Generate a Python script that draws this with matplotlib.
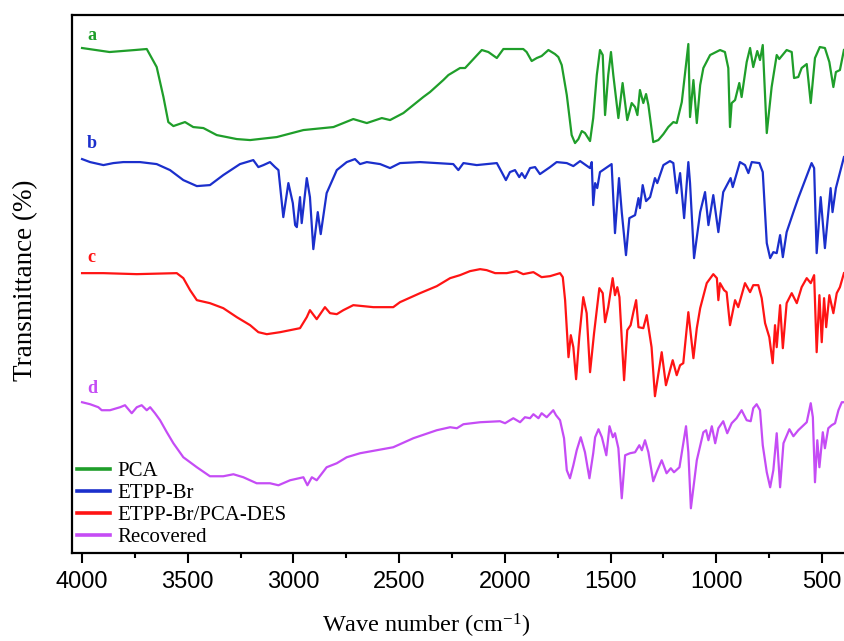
import numpy as np
import matplotlib
matplotlib.use("Agg")
import matplotlib.pyplot as plt
from matplotlib.ticker import MultipleLocator

# FTIR spectra (wavenumber, offset transmittance in arbitrary units)
wn_a = [4000, 3870, 3750, 3694, 3647, 3615, 3592, 3568, 3513, 3474, 3426, 3363, 3268, 3205, 3079, 2953,
        2811, 2717, 2653, 2582, 2543, 2480, 2433, 2386, 2354, 2291, 2267, 2212, 2188, 2109, 2078, 2038,
        2007, 1913, 1897, 1873, 1849, 1826, 1794, 1763, 1747, 1731, 1707, 1684, 1668, 1652, 1636, 1621,
        1597, 1582, 1565, 1550, 1537, 1526, 1511, 1498, 1487, 1463, 1443, 1421, 1400, 1384, 1373, 1361,
        1345, 1332, 1321, 1298, 1274, 1250, 1227, 1203, 1187, 1163, 1132, 1124, 1108, 1092, 1076, 1061,
        1029, 982, 959, 943, 935, 927, 911, 891, 880, 856, 840, 825, 806, 793, 780, 761, 738, 714, 702,
        667, 643, 632, 612, 596, 572, 553, 533, 510, 486, 465, 446, 434, 415, 396]
t_a = [505, 501, 503, 504, 486, 456, 431, 427, 431, 426, 425, 418, 414, 413, 416, 423, 426, 434, 430, 435,
       433, 440, 448, 456, 461, 473, 478, 485, 485, 503, 501, 495, 504, 504, 501, 492, 495, 497, 503, 499,
       496, 488, 458, 418, 410, 414, 422, 420, 412, 435, 478, 503, 498, 438, 478, 501, 478, 435, 470, 433,
       450, 446, 438, 463, 450, 459, 448, 411, 413, 419, 426, 431, 430, 451, 509, 436, 473, 430, 468, 485,
       498, 503, 501, 485, 426, 450, 453, 470, 456, 491, 505, 486, 502, 493, 508, 420, 466, 498, 494, 503,
       501, 475, 476, 485, 489, 450, 495, 506, 505, 491, 466, 481, 483, 503]

wn_b = [4000, 3962, 3899, 3852, 3805, 3726, 3647, 3584, 3521, 3457, 3395, 3332, 3253, 3190, 3166, 3142,
        3111, 3087, 3071, 3048, 3024, 3003, 2992, 2984, 2969, 2961, 2937, 2922, 2906, 2885, 2871, 2843,
        2795, 2748, 2709, 2685, 2653, 2590, 2543, 2496, 2401, 2322, 2244, 2220, 2196, 2133, 2038, 2015,
        1995, 1976, 1952, 1932, 1920, 1905, 1881, 1857, 1834, 1786, 1755, 1707, 1676, 1644, 1597, 1589,
        1582, 1573, 1563, 1550, 1495, 1479, 1460, 1447, 1427, 1411, 1384, 1368, 1361, 1348, 1332, 1313,
        1290, 1279, 1250, 1219, 1203, 1187, 1171, 1152, 1132, 1124, 1105, 1076, 1053, 1037, 1014, 990,
        967, 932, 922, 888, 864, 848, 832, 796, 780, 761, 745, 730, 714, 698, 685, 667, 635, 612, 549,
        537, 525, 506, 486, 459, 450, 434, 396]
t_b = [394, 391, 388, 390, 391, 391, 389, 383, 373, 367, 368, 378, 389, 393, 386, 388, 391, 386, 383, 336,
       370, 350, 328, 326, 356, 330, 375, 356, 304, 341, 319, 360, 383, 391, 394, 389, 391, 389, 385, 390,
       391, 390, 389, 383, 390, 388, 390, 381, 373, 381, 383, 376, 380, 375, 385, 386, 379, 386, 391, 390,
       387, 392, 385, 391, 348, 370, 365, 381, 389, 320, 375, 341, 298, 335, 338, 355, 345, 368, 352, 356,
       375, 370, 388, 392, 390, 360, 380, 335, 391, 370, 295, 341, 361, 328, 358, 321, 361, 375, 366, 391,
       388, 380, 391, 390, 381, 310, 295, 301, 300, 318, 296, 321, 341, 355, 390, 385, 300, 356, 305, 365,
       341, 365, 396]

wn_c = [4000, 3899, 3741, 3552, 3521, 3489, 3457, 3395, 3332, 3268, 3205, 3166, 3126, 3063, 3016, 2969,
        2937, 2922, 2890, 2851, 2827, 2795, 2764, 2717, 2669, 2622, 2528, 2496, 2401, 2322, 2259, 2212,
        2165, 2117, 2086, 2046, 1991, 1944, 1913, 1865, 1826, 1786, 1739, 1726, 1715, 1699, 1688, 1676,
        1663, 1648, 1629, 1613, 1597, 1578, 1553, 1537, 1526, 1511, 1490, 1479, 1468, 1458, 1436, 1421,
        1405, 1392, 1379, 1368, 1345, 1329, 1306, 1290, 1258, 1238, 1206, 1187, 1171, 1156, 1132, 1108,
        1092, 1076, 1045, 1014, 997, 990, 982, 963, 951, 935, 911, 896, 864, 840, 825, 801, 785, 769, 749,
        733, 722, 714, 698, 685, 667, 643, 619, 596, 572, 553, 537, 525, 512, 501, 490, 480, 465, 446, 430,
        415, 396]
t_c = [280, 280, 279, 280, 275, 263, 253, 250, 245, 236, 228, 221, 219, 221, 223, 225, 236, 243, 234, 246,
       240, 239, 243, 248, 247, 246, 246, 251, 260, 267, 275, 278, 282, 284, 283, 280, 280, 282, 279, 281,
       276, 277, 280, 276, 253, 196, 218, 206, 174, 216, 256, 240, 181, 220, 265, 260, 231, 246, 275, 258,
       266, 256, 173, 223, 228, 241, 253, 226, 225, 238, 206, 157, 201, 168, 193, 178, 188, 190, 241, 195,
       225, 245, 270, 279, 275, 253, 270, 263, 261, 228, 253, 246, 270, 261, 268, 268, 255, 230, 216, 190,
       228, 206, 248, 205, 250, 260, 250, 266, 275, 270, 278, 201, 258, 211, 255, 226, 258, 240, 260, 266,
       280]

wn_d = [4000, 3962, 3923, 3907, 3868, 3820, 3797, 3765, 3741, 3718, 3694, 3678, 3655, 3631, 3599, 3568,
        3521, 3457, 3395, 3332, 3284, 3237, 3174, 3111, 3071, 3016, 2953, 2934, 2913, 2890, 2843, 2795,
        2748, 2685, 2606, 2528, 2433, 2322, 2259, 2227, 2196, 2117, 2023, 1999, 1960, 1928, 1905, 1881,
        1865, 1841, 1826, 1802, 1771, 1758, 1739, 1720, 1707, 1692, 1676, 1660, 1641, 1621, 1600, 1582,
        1573, 1557, 1541, 1520, 1505, 1489, 1479, 1463, 1447, 1431, 1408, 1384, 1364, 1352, 1337, 1321,
        1298, 1282, 1258, 1235, 1215, 1200, 1174, 1143, 1132, 1120, 1092, 1061, 1048, 1037, 1021, 1005,
        990, 967, 948, 927, 904, 880, 856, 837, 825, 809, 793, 780, 761, 745, 730, 714, 698, 682, 654, 635,
        612, 572, 553, 543, 533, 522, 512, 496, 486, 470, 454, 438, 422, 406, 396]
t_d = [151, 149, 146, 143, 143, 146, 148, 140, 146, 148, 143, 146, 140, 133, 121, 110, 96, 86, 77, 77,
       79, 76, 70, 70, 68, 73, 76, 68, 76, 73, 86, 90, 96, 100, 103, 106, 115, 123, 126, 125,
       129, 131, 132, 130, 135, 131, 136, 135, 139, 135, 140, 136, 143, 138, 133, 115, 83, 75, 88, 103,
       116, 101, 75, 100, 116, 124, 116, 98, 127, 116, 120, 105, 55, 98, 100, 101, 108, 103, 113, 101,
       72, 81, 93, 80, 85, 81, 86, 127, 101, 45, 93, 121, 123, 113, 127, 110, 125, 132, 120, 130,
       135, 143, 133, 132, 145, 149, 143, 108, 81, 66, 83, 120, 66, 110, 124, 117, 123, 131, 150, 136,
       71, 113, 86, 121, 105, 125, 128, 130, 143, 151, 151]

labels = ['PCA', 'ETPP-Br', 'ETPP-Br/PCA-DES', 'Recovered']
letters = ['a', 'b', 'c', 'd']
colors = ['#1f9e2a', '#1b2fcc', '#ff1414', '#c54cf5']
letter_y = [518, 410, 296, 165]

plt.rcParams['mathtext.default'] = 'regular'
serif = 'Liberation Serif'
sans = 'Liberation Sans'

fig = plt.figure(figsize=(8.44, 6.41), dpi=100)
ax = fig.add_axes([71.7 / 844, 87.7 / 641, (860 - 71.7) / 844, 538.3 / 641])

series = [(wn_a, t_a), (wn_b, t_b), (wn_c, t_c), (wn_d, t_d)]
for (x, y), c, lab in zip(series, colors, labels):
    ax.plot(x, y, color=c, lw=1.6, label=lab)

for let, c, yy in zip(letters, colors, letter_y):
    ax.text(3954, yy, let, color=c, fontsize=13, fontweight='bold', family=serif,
            ha='center', va='center')

ax.set_xlim(4049, 320)
ax.set_ylim(0, 538)

ax.set_yticks([])
ax.xaxis.set_major_locator(MultipleLocator(500))
ax.xaxis.set_minor_locator(MultipleLocator(250))
ax.tick_params(axis='x', which='major', direction='out', length=7.5, width=1.5,
               labelsize=17, pad=5)
ax.tick_params(axis='x', which='minor', direction='out', length=3.8, width=1.5)
for t in ax.get_xticklabels():
    t.set_family(sans)
for s in ax.spines.values():
    s.set_linewidth(1.6)

leg = ax.legend(loc='lower left', bbox_to_anchor=(77 / 844, 93.5 / 641),
                bbox_transform=fig.transFigure, frameon=False, borderpad=0,
                borderaxespad=0, handlelength=1.6, handletextpad=0.35,
                labelspacing=0.12, prop={'family': serif, 'size': 15})
for ln in leg.get_lines():
    ln.set_linewidth(2.6)

fig.text(426 / 844, 1 - 626 / 641, 'Wave number (cm$^{-1}$)', family=serif, fontsize=17.5,
         ha='center', va='center')
fig.text(26 / 844, 1 - 280 / 641, 'Transmittance (%)', family=serif, fontsize=19.5,
         rotation=90, ha='center', va='center')

fig.savefig('out.png', dpi=100)
